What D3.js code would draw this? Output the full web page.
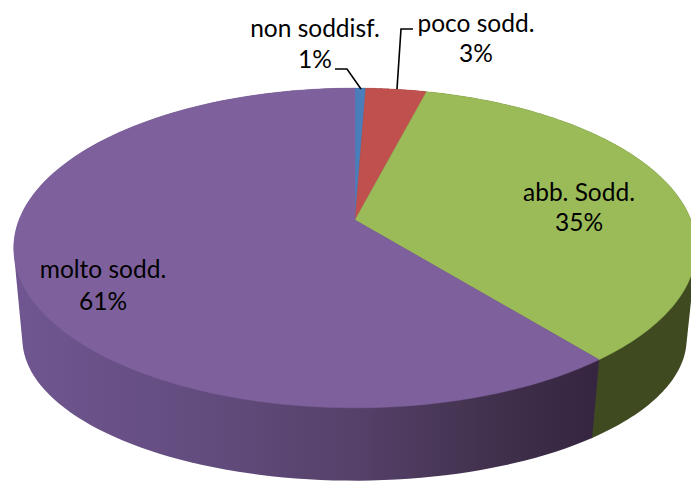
<!DOCTYPE html>
<html><head><meta charset="utf-8">
<script src="https://cdn.jsdelivr.net/npm/d3@7"></script>
<style>html,body{margin:0;padding:0;background:#fff;overflow:hidden}svg{display:block}text{font-family:Lato,sans-serif;font-size:24.5px;fill:#000}</style>
</head><body><svg id="c" width="691" height="488"></svg>
<script>
const categories = ["non soddisf.", "poco sodd.", "abb. Sodd.", "molto sodd."];
const values = [0.6, 3.4, 35.2, 60.8];
const topColors = ["#4a7ebb", "#c0504d", "#9bbb59", "#7e619c"];

const svg = d3.select("#c");
const color = d3.scaleOrdinal(categories, topColors);
const pie = d3.pie().sort(null).value(d => d.value).startAngle(0).endAngle(2 * Math.PI);
const arcs = pie(categories.map((name, i) => ({name, value: values[i]})));

const K = 0.175;
const topX = d3.scaleLinear([-1, 1], [355 - 336, 355 + 336]);
const topY = d3.scaleLinear([-1, 1], [220 + 155, 220 - 155]);
const botX = d3.scaleLinear([-1, 1], [354.5 - 327, 354.5 + 327]);
const botY = d3.scaleLinear([-1, 1], [314 + 137.5, 314 - 137.5]);

function project(a, sx, sy) {
  const u = Math.sin(a), v = Math.cos(a), w = 1 + K * v;
  return [sx(u / w), sy(v / w)];
}
const edge = (a0, a1, sx, sy) => d3.range(0, 121).map(i => project(a0 + (a1 - a0) * i / 120, sx, sy));
const line = d3.line();

const defs = svg.append("defs");
const grad = defs.append("linearGradient").attr("id", "wall")
  .attr("gradientUnits", "userSpaceOnUse").attr("x1", 20).attr("x2", 595).attr("y1", 0).attr("y2", 0);
[[0, "#6f5690"], [0.35, "#614b7c"], [0.6, "#544068"], [0.8, "#43324f"], [1, "#352540"]]
  .forEach(([o, c]) => grad.append("stop").attr("offset", o).attr("stop-color", c));
const wallFill = {"abb. Sodd.": "#3f4a20", "molto sodd.": "url(#wall)", "non soddisf.": "#2a3f5d", "poco sodd.": "#602826"};

// side walls: hull of each slice's upper and lower rim
svg.append("g").selectAll("path").data(arcs).join("path")
  .attr("d", d => line(d3.polygonHull([...edge(d.startAngle, d.endAngle, topX, topY), ...edge(d.startAngle, d.endAngle, botX, botY)])) + "Z")
  .attr("fill", d => wallFill[d.data.name]);

// top face
const apex = [topX(0), topY(0)];
svg.append("g").selectAll("path").data(arcs).join("path")
  .attr("d", d => line([apex, ...edge(d.startAngle, d.endAngle, topX, topY)]) + "Z")
  .attr("fill", d => color(d.data.name))
  .attr("stroke", d => color(d.data.name)).attr("stroke-width", 0.4);

// leader lines
const leaders = [[[335, 69], [347, 69], [361, 89]], [[413, 29], [401, 29], [397, 89]]];
svg.append("g").selectAll("path").data(leaders).join("path")
  .attr("d", line).attr("fill", "none").attr("stroke", "#000").attr("stroke-width", 1.6);

// labels
const labelPos = [[315, 37, 68], [476, 32, 62], [579, 201, 231], [103, 278, 310]];
const labels = svg.append("g").attr("text-anchor", "middle");
arcs.forEach((d, i) => {
  const [x, y1, y2] = labelPos[i];
  labels.append("text").attr("x", x).attr("y", y1).text(d.data.name);
  labels.append("text").attr("x", x).attr("y", y2).text(d3.format(".0f")(d.data.value) + "%");
});
</script></body></html>
